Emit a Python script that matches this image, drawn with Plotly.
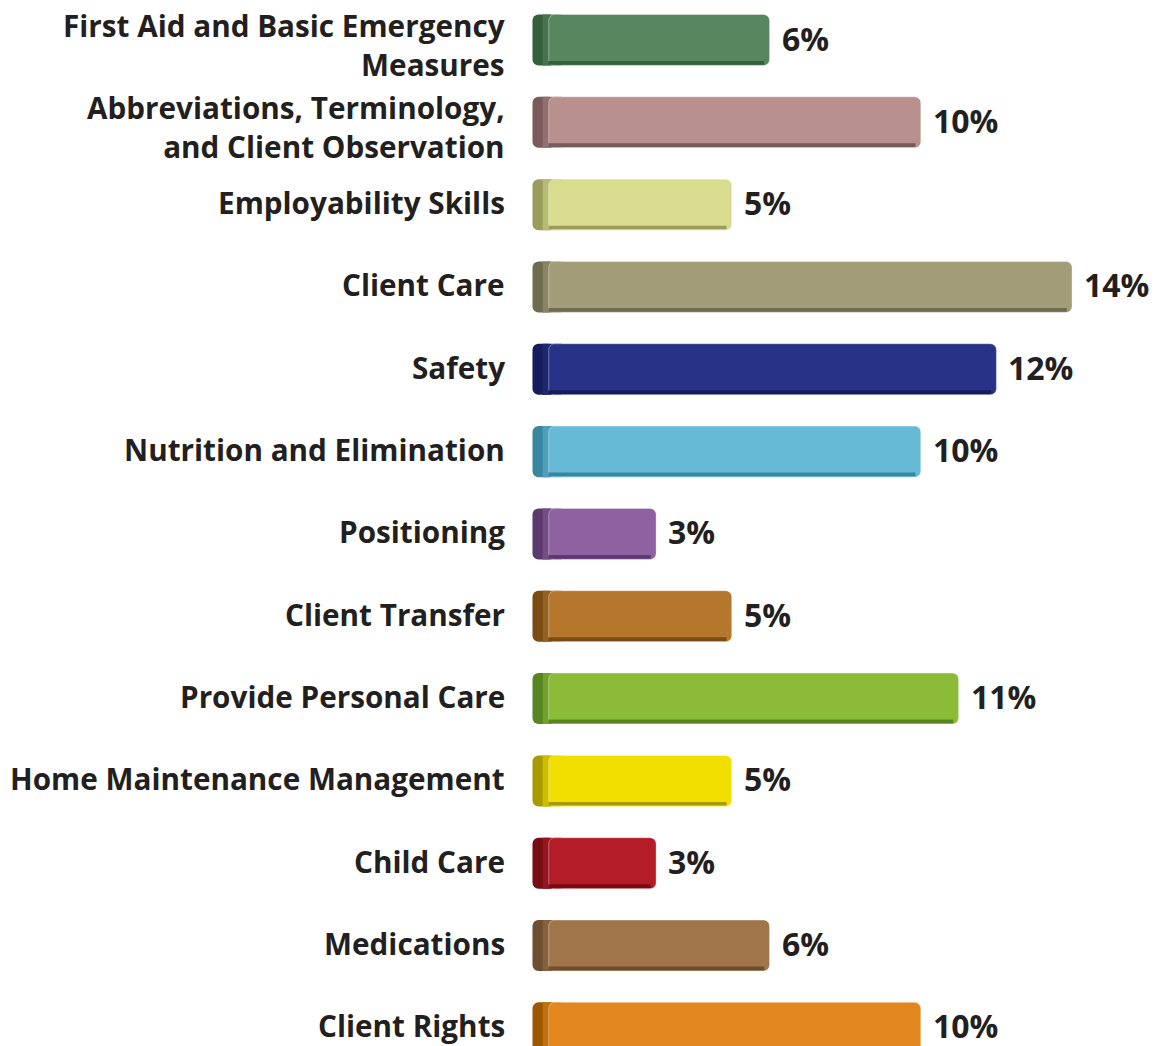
import plotly.graph_objects as go

categories = [
    "First Aid and Basic Emergency<br>Measures",
    "Abbreviations, Terminology,<br>and Client Observation",
    "Employability Skills",
    "Client Care",
    "Safety",
    "Nutrition and Elimination",
    "Positioning",
    "Client Transfer",
    "Provide Personal Care",
    "Home Maintenance Management",
    "Child Care",
    "Medications",
    "Client Rights",
]
values = [6, 10, 5, 14, 12, 10, 3, 5, 11, 5, 3, 6, 10]
value_labels = ["6%", "10%", "5%", "14%", "12%", "10%", "3%", "5%", "11%", "5%", "3%", "6%", "10%"]

main_colors = ["#58875F", "#B8908E", "#D9DC8F", "#A39C78", "#283387", "#67BAD6", "#8E61A0",
               "#B4772B", "#8CBB38", "#F1DF00", "#B41C28", "#A0754A", "#E2871D"]
dark_colors = ["#34603D", "#7A5A5B", "#9A9D5C", "#6F6B50", "#161D5E", "#3A869F", "#5D3A6E",
               "#7A4C12", "#568522", "#A89A00", "#780D14", "#6E4E30", "#9E5800"]
mid_colors = ["#46744F", "#936F70", "#B8BB74", "#8A8463", "#1E2871", "#4E9FBA", "#744C86",
              "#94611E", "#71A02C", "#CDBE00", "#951520", "#87613E", "#C0700F"]

n = len(categories)
ypos = list(range(n))
text_color = "#231F20"

fig = go.Figure()

# left end cap (dark)
fig.add_trace(go.Bar(
    y=ypos, x=[0.6] * n, base=[-0.27] * n, orientation="h", width=0.62,
    marker=dict(color=dark_colors, line=dict(width=0), cornerradius=6),
    hoverinfo="skip", showlegend=False,
))
# middle strip next to cap
fig.add_trace(go.Bar(
    y=ypos, x=[0.5] * n, base=[0] * n, orientation="h", width=0.62,
    marker=dict(color=mid_colors, line=dict(width=0)),
    hoverinfo="skip", showlegend=False,
))
# main body
fig.add_trace(go.Bar(
    y=ypos, x=[v - 0.16 for v in values], base=[0.16] * n, orientation="h", width=0.62,
    marker=dict(color=main_colors, line=dict(width=1, color="rgba(255,255,255,0.35)"),
                cornerradius=6),
    hoverinfo="skip", showlegend=False,
))
# bottom shading strip
fig.add_trace(go.Bar(
    y=ypos, x=[v - 0.3 for v in values], base=[0.16] * n, orientation="h", width=0.045,
    offset=0.255,
    marker=dict(color=dark_colors, line=dict(width=0)),
    hoverinfo="skip", showlegend=False,
))

annotations = []
for i in range(n):
    two_line = "<br>" in categories[i]
    annotations.append(dict(
        x=0, y=ypos[i], xref="x", yref="y", text=categories[i], showarrow=False,
        xanchor="right", yanchor="middle", align="right", xshift=-36,
        yshift=-5 if two_line else 2,
        font=dict(family="Open Sans", size=29.7, color=text_color, weight="bold"),
    ))
    annotations.append(dict(
        x=values[i], y=ypos[i], xref="x", yref="y", text=value_labels[i], showarrow=False,
        xanchor="left", yanchor="middle", xshift=11, yshift=2, borderpad=0,
        font=dict(family="Open Sans", size=32, color=text_color, weight="bold"),
    ))

fig.update_layout(
    width=1159, height=1046,
    margin=dict(l=520, r=0, t=0, b=0),
    paper_bgcolor="white", plot_bgcolor="white",
    barmode="overlay",
    xaxis=dict(range=[-0.6, 16.3], visible=False, fixedrange=True),
    yaxis=dict(range=[12.22, -0.486], visible=False, fixedrange=True),
    annotations=annotations,
    showlegend=False,
)

fig.write_html("out.html", config={"displayModeBar": False},
               post_script="document.body.style.margin='0';")
